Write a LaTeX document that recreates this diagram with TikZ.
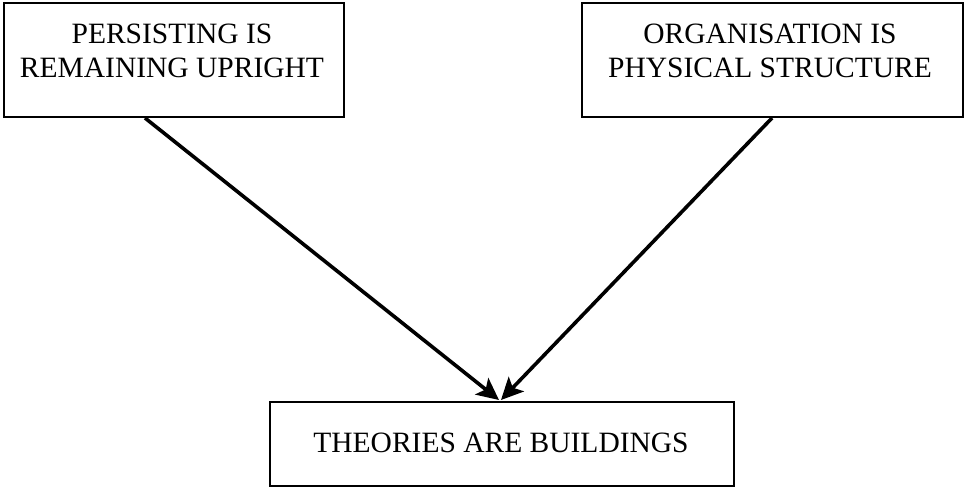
\documentclass[tikz,border=0pt]{standalone}
\usepackage{fontspec}
\setmainfont{Liberation Serif}
\usetikzlibrary{arrows.meta}
\begin{document}
\begin{tikzpicture}[x=1pt,y=-1pt,
  boxn/.style={draw, line width=2pt, inner sep=0pt, anchor=north west},
  txt/.style={align=center, inner sep=0pt, font=\fontsize{29.5}{34}\selectfont},
  conn/.style={line width=3.6pt, -{Stealth[length=22pt,width=21pt,inset=5pt]}}]
\useasboundingbox (0,0) rectangle (964,487);
\node[boxn, minimum width=340pt, minimum height=114pt] (lbox) at (3,2) {};
\node[boxn, minimum width=381pt, minimum height=114pt] (rbox) at (581,2) {};
\node[boxn, minimum width=464pt, minimum height=84pt] (bbox) at (269,401) {};
\node[txt] (ltxt) at (172,51) {PERSISTING IS\\REMAINING UPRIGHT};
\node[txt] (rtxt) at (770,51) {ORGANISATION IS\\PHYSICAL STRUCTURE};
\node[txt] (btxt) at (501,443) {THEORIES ARE BUILDINGS};
\draw[conn] ([xshift=142pt]lbox.south west) -- ([xshift=-3pt,yshift=1pt]bbox.north);
\draw[conn] ([xshift=191pt]rbox.south west) -- ([xshift=-1pt,yshift=1pt]bbox.north);
\end{tikzpicture}
\end{document}
